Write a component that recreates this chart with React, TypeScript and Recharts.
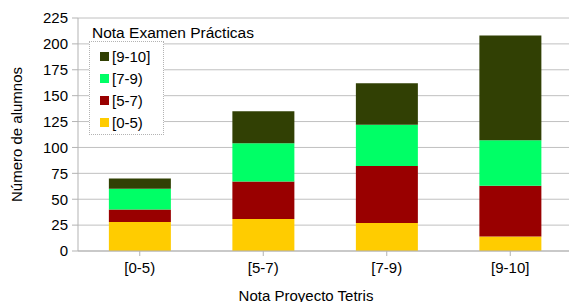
import React from 'react';
import { BarChart, Bar, XAxis, YAxis, CartesianGrid, Legend } from 'recharts';

const categories = ['[0-5)', '[5-7)', '[7-9)', '[9-10]'];
const grade0to5 = [28, 31, 27, 14];
const grade5to7 = [12, 36, 55, 49];
const grade7to9 = [20, 37, 40, 44];
const grade9to10 = [10, 31, 40, 101];
const yTicks = [0, 25, 50, 75, 100, 125, 150, 175, 200, 225];

const data = categories.map((name, i) => ({
  name,
  g05: grade0to5[i],
  g57: grade5to7[i],
  g79: grade7to9[i],
  g910: grade9to10[i],
}));

const FONT = '"Liberation Sans", Arial, sans-serif';
const FS = 15;

const LegendBox = (props: any) => {
  const items = [...(props.payload || [])].reverse();
  return (
    <div style={{ fontFamily: FONT, fontSize: FS, color: '#000' }}>
      <div style={{ height: 17, lineHeight: '17px', paddingLeft: 3, whiteSpace: 'nowrap', fontSize: 15.5 }}>
        Nota Examen Prácticas
      </div>
      <div
        style={{
          width: 75,
          border: '1px dotted #b3b3b3',
          background: '#fff',
          paddingTop: 3,
          paddingBottom: 1,
          boxSizing: 'border-box',
        }}
      >
        {items.map((it: any) => (
          <div key={it.value} style={{ display: 'flex', alignItems: 'center', height: 22 }}>
            <span
              style={{ display: 'inline-block', width: 9, height: 9, background: it.color, marginLeft: 10, marginRight: 3 }}
            />
            <span>{it.value}</span>
          </div>
        ))}
      </div>
    </div>
  );
};

const App: React.FC = () => {
  return (
    <div style={{ position: 'absolute', left: 0, top: 0, width: 569, height: 302, overflow: 'hidden', background: '#fff' }}>
      <BarChart
        width={572}
        height={302}
        data={data}
        margin={{ top: 18, right: 0, bottom: 0, left: 18 }}
        barCategoryGap="25%"
        style={{ fontFamily: FONT }}
      >
        <CartesianGrid vertical={false} stroke="#c0c0c0" />
        <XAxis
          dataKey="name"
          height={51}
          stroke="#b3b3b3"
          tickSize={5}
          tickMargin={6}
          tick={{ fill: '#000', fontSize: FS }}
          label={{ value: 'Nota Proyecto Tetris', position: 'insideBottom', offset: 1, dx: -19, fill: '#000', fontSize: FS }}
        />
        <YAxis
          width={60}
          domain={[0, 225]}
          ticks={yTicks}
          interval={0}
          stroke="#b3b3b3"
          tickSize={6}
          tickMargin={4}
          tick={{ fill: '#000', fontSize: FS }}
          label={{
            value: 'Número de alumnos',
            angle: -90,
            position: 'insideLeft',
            offset: -1,
            fill: '#000',
            fontSize: FS,
            style: { textAnchor: 'middle' },
          }}
        />
        <Legend
          layout="vertical"
          align="center"
          verticalAlign="middle"
          content={<LegendBox />}
          wrapperStyle={{ position: 'absolute', left: 89, top: 24, width: 'auto', height: 'auto' }}
        />
        <Bar dataKey="g05" name="[0-5)" stackId="a" fill="#ffcc00" isAnimationActive={false} />
        <Bar dataKey="g57" name="[5-7)" stackId="a" fill="#990000" isAnimationActive={false} />
        <Bar dataKey="g79" name="[7-9)" stackId="a" fill="#00ff66" isAnimationActive={false} />
        <Bar dataKey="g910" name="[9-10]" stackId="a" fill="#314004" isAnimationActive={false} />
      </BarChart>
    </div>
  );
};

export default App;
